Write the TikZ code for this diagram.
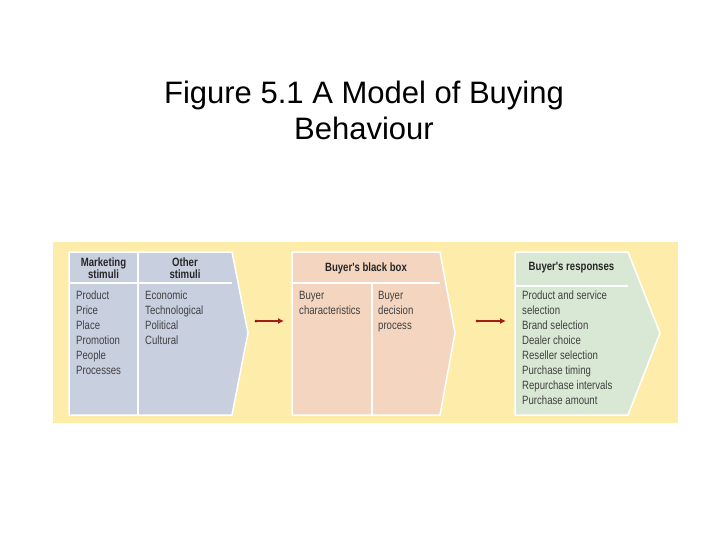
\documentclass[tikz,border=0pt]{standalone}
\usepackage{fontspec}
\usetikzlibrary{arrows.meta}
\setmainfont{Liberation Sans}
\newfontfamily\cond[FakeStretch=0.8]{Liberation Sans}
\begin{document}
\begin{tikzpicture}[x=1pt,y=-1pt,
  panel/.style={draw=white,line width=1.5pt},
  txt/.style={font=\cond\fontsize{12}{15}\selectfont,text=black!75,align=left,anchor=north west,inner sep=0pt},
  hdr/.style={font=\cond\bfseries\fontsize{12}{12.5}\selectfont,text=black!85,align=center,inner sep=0pt},
  conn/.style={draw={rgb,255:red,160;green,30;blue,20},line width=1.3pt,-{Latex[length=6pt,width=6pt]}}]
\useasboundingbox (0,0) rectangle (728,546);
\definecolor{band}{RGB}{253,236,170}
\definecolor{blu}{RGB}{200,208,224}
\definecolor{pch}{RGB}{244,214,192}
\definecolor{grn}{RGB}{217,232,212}
\node[font=\fontsize{31}{36}\selectfont,align=center] (title) at (364,110) {Figure 5.1 A Model of Buying\\Behaviour};
\fill[band] (53,242) rectangle (678,423);
% blue
\filldraw[panel,fill=blu] (69,252) -- (232,252) -- (248,333) -- (232,415) -- (69,415) -- cycle;
\draw[panel] (69,283) -- (232,283) (138,252) -- (138,415);
% peach
\filldraw[panel,fill=pch] (292,252) -- (440,252) -- (455,333) -- (440,415) -- (292,415) -- cycle;
\draw[panel] (292,283) -- (440,283) (372,283) -- (372,415);
% green
\filldraw[panel,fill=grn] (515,252) -- (628,252) -- (660,333) -- (628,415) -- (515,415) -- cycle;
\draw[panel] (515,286) -- (628,286);
\node[hdr] (h1) at (103.5,268) {Marketing\\stimuli};
\node[hdr] (h2) at (185,268) {Other\\stimuli};
\node[hdr] (h3) at (366,268) {Buyer's black box};
\node[hdr] (h4) at (571.5,268) {Buyer's responses};
\node[txt] (t1) at (76,291) {Product\\Price\\Place\\Promotion\\People\\Processes};
\node[txt] (t2) at (145,291) {Economic\\Technological\\Political\\Cultural};
\node[txt] (t3) at (299,291) {Buyer\\characteristics};
\node[txt] (t4) at (378,291) {Buyer\\decision\\process};
\node[txt] (t5) at (522,291) {Product and service\\selection\\Brand selection\\Dealer choice\\Reseller selection\\Purchase timing\\Repurchase intervals\\Purchase amount};
\coordinate (a1) at (256,321); \coordinate (b1) at (284,321);
\coordinate (a2) at (477,321); \coordinate (b2) at (506,321);
\fill[red!60!black] (a1) circle (1.5); \fill[red!60!black] (a2) circle (1.5);
\draw[conn] (a1) -- (b1);
\draw[conn] (a2) -- (b2);
\end{tikzpicture}
\end{document}
